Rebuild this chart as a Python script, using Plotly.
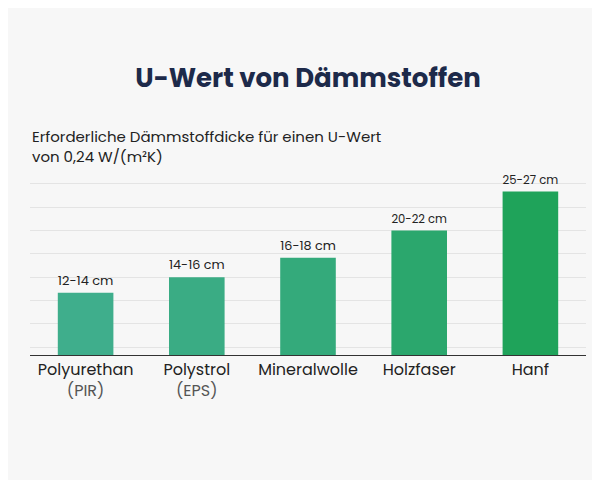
import plotly.graph_objects as go

categories = ["Polyurethan<br><span style='color:#555'>(PIR)</span>", "Polystrol<br><span style='color:#555'>(EPS)</span>", "Mineralwolle", "Holzfaser", "Hanf"]
values = [13, 15, 17.5, 21, 26]
labels = ["12-14 cm", "14-16 cm", "16-18 cm", "20-22 cm", "25-27 cm"]

fig = go.Figure(go.Bar(
    x=categories, y=values, text=labels, textposition="outside",
    textfont=dict(size=13, color="#222"),
    marker=dict(color=values, colorscale=[[0, "#3fae8c"], [1, "#1fa35a"]], line=dict(width=0)),
    width=0.5, cliponaxis=False,
))
fig.update_layout(
    width=600, height=480, paper_bgcolor="#f7f7f7", plot_bgcolor="#f7f7f7",
    font=dict(family="Poppins, Inter, sans-serif", color="#222"),
    margin=dict(l=22, r=22, t=168, b=133),
    title=dict(text="<b>U-Wert von Dämmstoffen</b>", x=0.5, y=0.855, yanchor="middle",
               font=dict(size=26, color="#1d2a4a")),
    annotations=[dict(text="Erforderliche Dämmstoffdicke für einen U-Wert<br>von 0,24 W/(m²K)",
                      xref="paper", yref="paper", x=0, y=1.29, xanchor="left", yanchor="top",
                      showarrow=False, align="left", font=dict(size=15, color="#222"))],
    showlegend=False,
)
fig.update_yaxes(range=[5, 28], showticklabels=False, gridcolor="#e4e4e4", zeroline=False,
                 dtick=3, showline=False)
fig.update_xaxes(showline=True, linecolor="#333", linewidth=1, tickfont=dict(size=16, color="#222"))
fig.write_html("out.html")
